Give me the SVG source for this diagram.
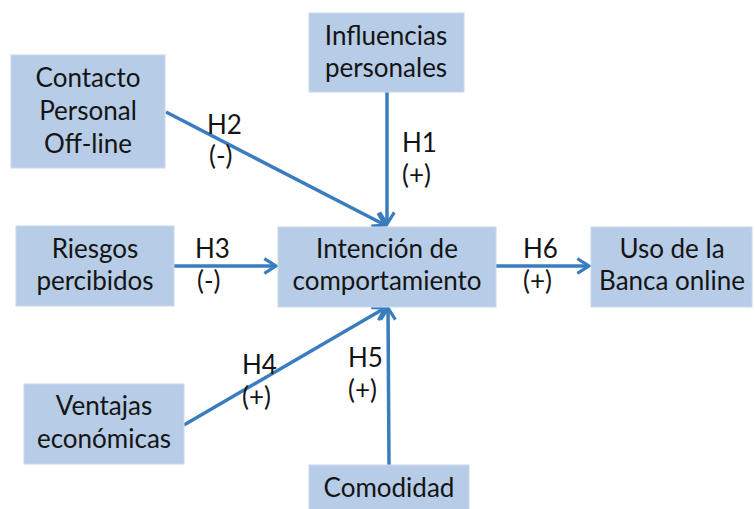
<svg xmlns="http://www.w3.org/2000/svg" width="755" height="509" viewBox="0 0 755 509">
<style>
.box{fill:#b7cce6;stroke:#c9d8ec;stroke-width:1}
.t{font-family:Lato,"Open Sans","Liberation Sans",sans-serif;font-size:26px;fill:#141414;text-anchor:middle}
.l{font-family:Lato,"Open Sans","Liberation Sans",sans-serif;font-size:26px;fill:#141414}
.c{stroke:#3a7dbf;stroke-width:3.5;fill:none}
</style>
<defs>
<marker id="ah" viewBox="0 0 12 12" refX="10" refY="6" markerWidth="5" markerHeight="5" markerUnits="strokeWidth" orient="auto">
<path d="M2,1 L10,6 L2,11" fill="none" stroke="#3a7dbf" stroke-width="2.2" stroke-linejoin="miter"/>
</marker>
</defs>
<g id="connectors">
<line class="c" x1="387" y1="92" x2="387" y2="224" marker-end="url(#ah)"/>
<line class="c" x1="166" y1="112" x2="385" y2="225" marker-end="url(#ah)"/>
<line class="c" x1="174" y1="266" x2="276" y2="266" marker-end="url(#ah)"/>
<line class="c" x1="496" y1="266" x2="589" y2="266" marker-end="url(#ah)"/>
<line class="c" x1="184" y1="425" x2="385" y2="308" marker-end="url(#ah)"/>
<line class="c" x1="389" y1="465" x2="388" y2="308" marker-end="url(#ah)"/>
</g>
<g id="contacto">
<rect class="box" x="11" y="55" width="154" height="113"/>
<text class="t" x="88" y="87">Contacto</text>
<text class="t" x="88" y="120">Personal</text>
<text class="t" x="88" y="153">Off-line</text>
</g>
<g id="influencias">
<rect class="box" x="309" y="13" width="155" height="79"/>
<text class="t" x="386" y="45">Influencias</text>
<text class="t" x="386" y="77">personales</text>
</g>
<g id="riesgos">
<rect class="box" x="16" y="226" width="158" height="80"/>
<text class="t" x="95" y="258">Riesgos</text>
<text class="t" x="95" y="290">percibidos</text>
</g>
<g id="intencion">
<rect class="box" x="278" y="227" width="218" height="80"/>
<text class="t" x="387" y="258">Intención de</text>
<text class="t" x="387" y="290">comportamiento</text>
</g>
<g id="uso">
<rect class="box" x="591" y="227" width="161" height="80"/>
<text class="t" x="672" y="258">Uso de la</text>
<text class="t" x="672" y="290">Banca online</text>
</g>
<g id="ventajas">
<rect class="box" x="24" y="384" width="160" height="80"/>
<text class="t" x="104" y="415">Ventajas</text>
<text class="t" x="104" y="448">económicas</text>
</g>
<g id="comodidad">
<rect class="box" x="309" y="465" width="160" height="50"/>
<text class="t" x="389" y="497">Comodidad</text>
</g>
<g id="labels">
<text class="l" x="207" y="134">H2</text>
<text class="l" x="209" y="165">(-)</text>
<text class="l" x="402" y="152">H1</text>
<text class="l" x="402" y="184">(+)</text>
<text class="l" x="195" y="258">H3</text>
<text class="l" x="197" y="290">(-)</text>
<text class="l" x="523" y="258">H6</text>
<text class="l" x="523" y="290">(+)</text>
<text class="l" x="242" y="374">H4</text>
<text class="l" x="242" y="406">(+)</text>
<text class="l" x="348" y="367">H5</text>
<text class="l" x="348" y="399">(+)</text>
</g>
</svg>
